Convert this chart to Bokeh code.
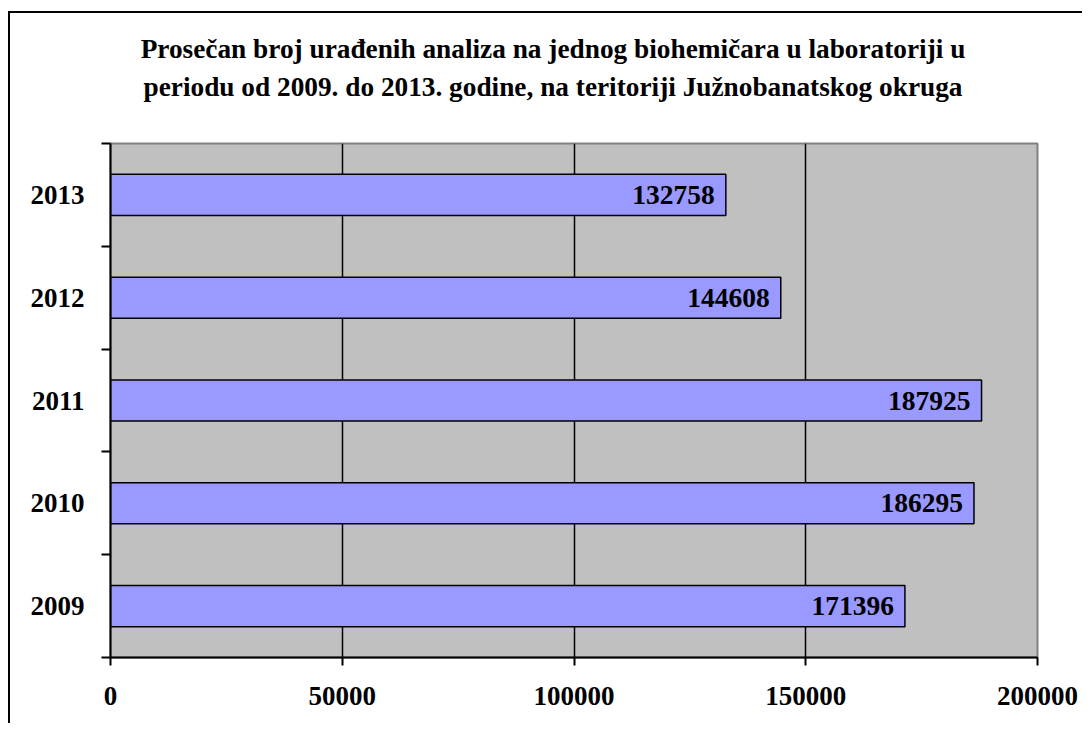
from bokeh.plotting import figure
from bokeh.models import Range1d, FixedTicker, ColumnDataSource, Div
from bokeh.layouts import column
from bokeh.core.properties import value
from bokeh.embed import file_html
from bokeh.resources import INLINE

title_lines = [
    "Prosečan broj urađenih analiza na jednog biohemičara u laboratoriji u",
    "periodu od 2009. do 2013. godine, na teritoriji Južnobanatskog okruga",
]
years = ["2009", "2010", "2011", "2012", "2013"]
values = [171396, 186295, 187925, 144608, 132758]
x_ticks = [0, 50000, 100000, 150000, 200000]
x_tick_labels = ["0", "50000", "100000", "150000", "200000"]

FONT = "Liberation Serif"
ypos = [i + 0.5 for i in range(len(years))]
src = ColumnDataSource(dict(y=ypos, v=values, lbl=[str(v) for v in values]))

TITLE_H = 117
title = Div(
    text=('<div style="position:relative; left:7px; top:17px; width:1072px; '
          "text-align:center; font-family:'Liberation Serif'; font-weight:bold; "
          'font-size:27.3px; line-height:38px; color:black; white-space:nowrap;">'
          + "<br>".join(title_lines) + "</div>"),
    width=1072, height=TITLE_H, margin=0)

p = figure(width=1072, height=710 - TITLE_H,
           x_range=Range1d(0, 200000), y_range=Range1d(0, len(years)),
           output_backend="svg", toolbar_location=None,
           min_border_left=100, min_border_right=45,
           min_border_top=130 - TITLE_H, min_border_bottom=66)
p.margin = 0

p.background_fill_color = "#C0C0C0"
p.border_fill_color = "white"
p.outline_line_color = "#808080"
p.outline_line_width = 2

p.hbar(y="y", right="v", left=0, height=0.4, source=src,
       fill_color="#9999FF", line_color="black", line_width=1.5)
p.text(x="v", y="y", text="lbl", source=src, text_align="right",
       text_baseline="middle", x_offset=-11, text_color="black",
       text_font=value(FONT), text_font_style="bold", text_font_size="27.5px")

# x axis
xa = p.xaxis[0]
xa.ticker = FixedTicker(ticks=x_ticks, minor_ticks=[])
xa.major_label_overrides = {t: l for t, l in zip(x_ticks, x_tick_labels)}
xa.major_label_text_font = FONT
xa.major_label_text_font_style = "bold"
xa.major_label_text_font_size = "27px"
xa.major_label_text_color = "black"
xa.major_tick_out = 8
xa.major_tick_in = 0
xa.major_label_standoff = 21
xa.axis_line_color = "black"
xa.axis_line_width = 2
xa.major_tick_line_width = 2

# y axis
ya = p.yaxis[0]
ya.ticker = FixedTicker(ticks=ypos, minor_ticks=[float(i) for i in range(len(years) + 1)])
ya.major_label_overrides = {y: t for y, t in zip(ypos, years)}
ya.major_label_orientation = "horizontal"
ya.major_label_text_font = FONT
ya.major_label_text_font_style = "bold"
ya.major_label_text_font_size = "27px"
ya.major_label_text_color = "black"
ya.major_tick_out = 0
ya.major_tick_in = 0
ya.minor_tick_out = 9
ya.minor_tick_in = 0
ya.minor_tick_line_width = 2
ya.minor_tick_line_color = "black"
ya.major_label_standoff = 17
ya.axis_line_color = "black"
ya.axis_line_width = 2

p.xgrid.ticker = FixedTicker(ticks=x_ticks[1:-1], minor_ticks=[])
p.xgrid.grid_line_color = "black"
p.xgrid.grid_line_width = 1.5
p.ygrid.grid_line_color = None

layout = column(title, p, spacing=0)
layout.styles = {"margin-top": "11px", "margin-left": "8px",
                 "border-top": "2px solid black", "border-left": "2px solid black",
                 "background-color": "white"}

open("out.html", "w").write(file_html(layout, INLINE))
